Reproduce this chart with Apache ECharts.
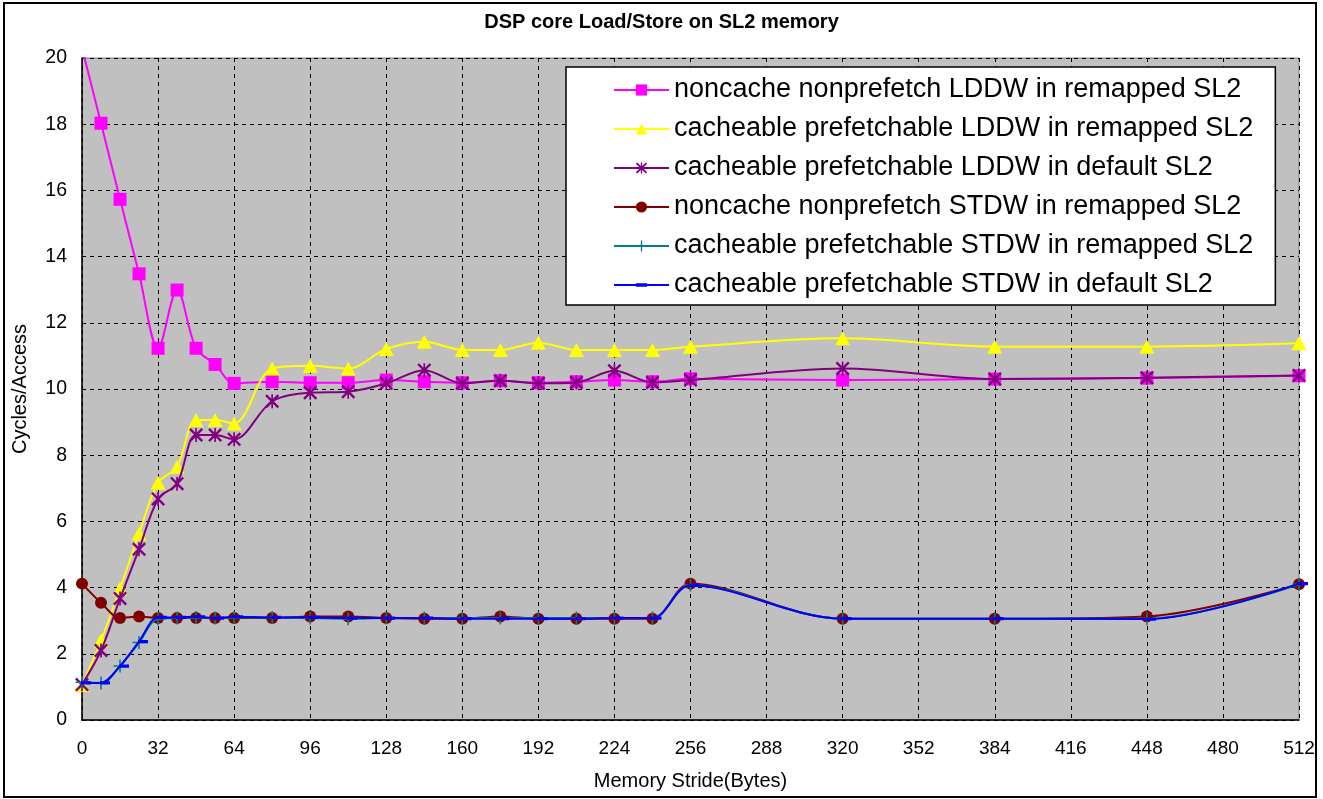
<!DOCTYPE html>
<html>
<head>
<meta charset="utf-8">
<script src="https://cdn.jsdelivr.net/npm/echarts@6/dist/echarts.min.js"></script>
<style>
html,body{margin:0;padding:0;background:#fff;}
#chart{width:1323px;height:799px;}
</style>
</head>
<body>
<div id="chart"></div>
<script>
// ---- data ----
const strides = [0,8,16,24,32,40,48,56,64,80,96,112,128,144,160,176,192,208,224,240,256,320,384,448,512];
const xTicks = [0,32,64,96,128,160,192,224,256,288,320,352,384,416,448,480,512];
const yTicks = [0,2,4,6,8,10,12,14,16,18,20];
const seriesNames = [
  'noncache nonprefetch LDDW in remapped SL2',
  'cacheable prefetchable LDDW in remapped SL2',
  'cacheable prefetchable LDDW in default SL2',
  'noncache nonprefetch STDW in remapped SL2',
  'cacheable prefetchable STDW in remapped SL2',
  'cacheable prefetchable STDW in default SL2'
];
const ncLDDWRemap = [20.3,18.03,15.73,13.48,11.23,12.99,11.23,10.74,10.17,10.22,10.19,10.19,10.27,10.22,10.19,10.25,10.19,10.22,10.27,10.22,10.31,10.27,10.30,10.33,10.40];
const cpLDDWRemap = [1.05,2.4,3.97,5.63,7.17,7.65,9.06,9.06,8.96,10.62,10.70,10.62,11.21,11.43,11.18,11.18,11.40,11.18,11.18,11.18,11.28,11.53,11.28,11.28,11.38];
const cpLDDWDefault = [1.07,2.10,3.67,5.16,6.68,7.14,8.61,8.61,8.48,9.63,9.89,9.92,10.17,10.57,10.17,10.25,10.17,10.20,10.55,10.20,10.27,10.62,10.30,10.34,10.41];
const ncSTDWRemap = [4.12,3.54,3.08,3.13,3.08,3.08,3.08,3.08,3.08,3.08,3.13,3.13,3.08,3.06,3.06,3.13,3.06,3.06,3.06,3.06,4.12,3.06,3.06,3.13,4.10];
const cpSTDWRemap = [1.14,1.12,1.63,2.34,3.06,3.08,3.10,3.08,3.10,3.10,3.08,3.06,3.08,3.08,3.08,3.08,3.08,3.08,3.08,3.08,4.08,3.06,3.06,3.06,4.10];
const cpSTDWDefault = [1.12,1.12,1.63,2.37,3.10,3.10,3.12,3.08,3.12,3.10,3.10,3.08,3.08,3.08,3.06,3.06,3.06,3.06,3.08,3.08,4.07,3.06,3.06,3.05,4.12];

const allValues = [ncLDDWRemap, cpLDDWRemap, cpLDDWDefault, ncSTDWRemap, cpSTDWRemap, cpSTDWDefault];
const colors = ['#FF00FF','#FFFF00','#800080','#800000','#008080','#0000FF'];
const FONT = "'Liberation Sans', Arial, sans-serif";

const asterisk = 'path://M4.4,0H5.6V10H4.4Z M0,1.2L1.2,0L10,8.8L8.8,10Z M8.8,0L10,1.2L1.2,10L0,8.8Z';
const plus = 'path://M4.4,0H5.6V10H4.4Z M0,4.4H10V5.6H0Z';
const dash = 'path://M0,0L0,0Z M0,3.4H10V6.6H0Z M10,10L10,10Z';
const symbols = [
  {symbol:'rect', symbolSize:13},
  {symbol:'triangle', symbolSize:[15,14]},
  {symbol:asterisk, symbolSize:14},
  {symbol:'circle', symbolSize:12},
  {symbol:plus, symbolSize:13},
  {symbol:dash, symbolSize:10, symbolOffset:[4,0]}
];

const series = allValues.map((vals, i) => Object.assign({
  name: seriesNames[i],
  type: 'line',
  data: strides.map((s, k) => [s, vals[k]]),
  smooth: 0.33,
  showAllSymbol: true,
  lineStyle: {color: colors[i], width: 2},
  itemStyle: {color: colors[i], borderWidth: 0},
  emphasis: {disabled: true},
  z: 2 + i * 0.01
}, symbols[i]));

const chart = echarts.init(document.getElementById('chart'), null, {renderer: 'canvas'});
chart.setOption({
  animation: false,
  backgroundColor: '#FFFFFF',
  color: colors,
  title: {
    text: 'DSP core Load/Store on SL2 memory',
    left: 'center',
    top: 7,
    textStyle: {fontFamily: FONT, fontSize: 20, fontWeight: 'bold', color: '#000'}
  },
  grid: {
    left: 82, right: 24, top: 58, bottom: 79,
    show: true,
    backgroundColor: '#C0C0C0',
    borderColor: '#808080',
    borderWidth: 1
  },
  xAxis: {
    type: 'value',
    min: 0, max: 512, interval: 32,
    name: 'Memory Stride(Bytes)',
    nameLocation: 'middle',
    nameGap: 51,
    nameTextStyle: {fontFamily: FONT, fontSize: 20, color: '#000'},
    axisLine: {show: true, onZero: false, lineStyle: {color: '#000', width: 1.5}},
    axisTick: {show: false},
    axisLabel: {
      fontFamily: FONT, fontSize: 19, color: '#000', margin: 19,
      formatter: v => xTicks.indexOf(v) >= 0 ? String(v) : ''
    },
    splitLine: {show: true, lineStyle: {color: '#000', type: [4, 4], width: 1}}
  },
  yAxis: {
    type: 'value',
    min: 0, max: 20, interval: 2,
    name: 'Cycles/Access',
    nameLocation: 'middle',
    nameGap: 52,
    nameTextStyle: {fontFamily: FONT, fontSize: 20, color: '#000'},
    axisLine: {show: true, lineStyle: {color: '#000', width: 1.5}},
    axisTick: {show: false},
    axisLabel: {
      fontFamily: FONT, fontSize: 19.5, color: '#000', margin: 15,
      formatter: v => yTicks.indexOf(v) >= 0 ? String(v) : ''
    },
    splitLine: {show: true, lineStyle: {color: '#000', type: [4, 4], width: 1}}
  },
  legend: {
    show: true,
    orient: 'vertical',
    left: 566,
    top: 67,
    padding: [8, 22, 5, 47],
    itemWidth: 55,
    itemHeight: 14,
    itemGap: 9,
    data: seriesNames,
    textStyle: {fontFamily: FONT, fontSize: 27, color: '#000', lineHeight: 30},
    backgroundColor: '#FFFFFF',
    borderColor: '#000',
    borderWidth: 1.5,
    borderRadius: 0,
    selectedMode: false,
    z: 10
  },
  graphic: [{
    type: 'rect',
    shape: {x: 4, y: 3, width: 1312, height: 794},
    style: {fill: 'none', stroke: '#000', lineWidth: 2},
    silent: true,
    z: 100
  }],
  series: series
});
</script>
</body>
</html>
